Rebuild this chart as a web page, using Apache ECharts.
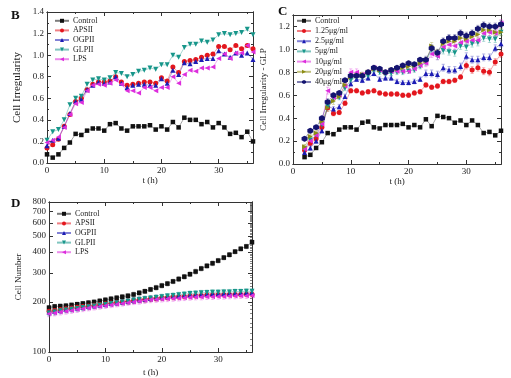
<!DOCTYPE html>
<html>
<head>
<meta charset="utf-8">
<script src="https://cdn.jsdelivr.net/npm/echarts@6/dist/echarts.min.js"></script>
<style>
html,body{margin:0;padding:0;background:#fff;}
#c{width:511px;height:378px;}
</style>
</head>
<body>
<div id="c"></div>
<script>
// ---------- DATA ----------
const tB = [0,1,2,3,4,5,6,7,8,9,10,11,12,13,14,15,16,17,18,19,20,21,22,23,24,25,26,27,28,29,30,31,32,33,34,35,36];
const bControl = [0.08,0.05,0.08,0.14,0.19,0.27,0.26,0.30,0.32,0.32,0.30,0.36,0.37,0.32,0.30,0.34,0.34,0.34,0.35,0.31,0.34,0.31,0.38,0.33,0.42,0.40,0.40,0.36,0.38,0.33,0.37,0.33,0.27,0.28,0.24,0.29,0.20];
const bAPSII = [0.14,0.17,0.22,0.34,0.45,0.57,0.60,0.68,0.73,0.75,0.75,0.76,0.80,0.75,0.72,0.73,0.74,0.75,0.75,0.74,0.79,0.76,0.89,0.84,0.94,0.95,0.96,0.98,1.00,1.01,1.08,1.08,1.05,1.09,1.06,1.09,1.06];
const bOGPII = [0.16,0.21,0.23,0.34,0.46,0.57,0.59,0.68,0.72,0.75,0.74,0.75,0.80,0.74,0.70,0.72,0.73,0.73,0.72,0.72,0.78,0.74,0.86,0.82,0.93,0.92,0.94,0.96,0.97,0.97,1.04,1.01,0.98,1.02,1.00,1.02,0.96];
const bGLPII = [0.21,0.29,0.31,0.40,0.54,0.60,0.62,0.73,0.77,0.78,0.77,0.79,0.84,0.83,0.80,0.82,0.85,0.86,0.88,0.87,0.91,0.91,1.00,0.98,1.07,1.10,1.10,1.13,1.12,1.14,1.19,1.20,1.19,1.20,1.21,1.24,1.19];
const bLPS = [0.19,0.21,0.24,0.33,0.45,0.55,0.56,0.67,0.72,0.73,0.72,0.74,0.77,0.73,0.67,0.67,0.65,0.70,0.70,0.67,0.70,0.70,0.80,0.74,0.82,0.86,0.85,0.88,0.88,0.89,0.97,1.01,0.97,1.02,1.02,1.09,1.03];

const tC = [2,3,4,5,6,7,8,9,10,11,12,13,14,15,16,17,18,19,20,21,22,23,24,25,26,27,28,29,30,31,32,33,34,35,36];
const cControl = [0.06,0.08,0.14,0.19,0.27,0.26,0.30,0.32,0.32,0.30,0.36,0.37,0.32,0.31,0.34,0.34,0.34,0.35,0.32,0.34,0.32,0.39,0.33,0.42,0.41,0.40,0.36,0.38,0.34,0.38,0.34,0.27,0.28,0.25,0.29];
const c125 = [0.12,0.18,0.22,0.32,0.49,0.44,0.45,0.53,0.64,0.64,0.62,0.63,0.64,0.62,0.61,0.61,0.61,0.60,0.60,0.62,0.63,0.69,0.67,0.68,0.72,0.72,0.73,0.76,0.86,0.82,0.84,0.81,0.80,0.89,0.96];
const c25 = [0.10,0.14,0.20,0.29,0.51,0.48,0.50,0.59,0.70,0.74,0.73,0.75,0.79,0.74,0.75,0.75,0.72,0.71,0.71,0.72,0.74,0.79,0.79,0.78,0.84,0.82,0.82,0.85,0.94,0.91,0.91,0.93,0.93,1.01,1.05];
const c5 = [0.13,0.21,0.25,0.34,0.50,0.57,0.58,0.66,0.73,0.76,0.76,0.77,0.82,0.80,0.79,0.79,0.80,0.80,0.81,0.82,0.85,0.89,1.00,0.94,0.99,0.98,0.97,1.03,1.02,1.05,1.06,1.10,1.09,1.09,1.15];
const c10 = [0.13,0.20,0.25,0.35,0.64,0.58,0.60,0.68,0.80,0.80,0.78,0.80,0.84,0.82,0.80,0.81,0.81,0.81,0.81,0.83,0.86,0.88,0.96,0.94,1.02,1.04,1.03,1.06,1.07,1.08,1.08,1.14,1.15,1.14,1.23];
const c20 = [0.15,0.24,0.27,0.37,0.49,0.55,0.59,0.69,0.76,0.77,0.78,0.80,0.83,0.82,0.80,0.82,0.83,0.84,0.85,0.86,0.88,0.90,1.03,0.97,1.05,1.07,1.07,1.10,1.09,1.11,1.13,1.17,1.17,1.15,1.15];
const c40 = [0.22,0.29,0.32,0.40,0.54,0.60,0.62,0.73,0.77,0.77,0.77,0.80,0.84,0.83,0.80,0.82,0.84,0.86,0.88,0.87,0.91,0.91,1.01,0.97,1.07,1.10,1.10,1.14,1.12,1.14,1.18,1.21,1.20,1.20,1.22];
// error bar half-heights (panel C)
const c125Err = [0.02,0.02,0.02,0.02,0.03,0.02,0.02,0.02,0.02,0.02,0.02,0.02,0.02,0.02,0.02,0.02,0.02,0.02,0.02,0.02,0.02,0.02,0.02,0.02,0.02,0.02,0.02,0.02,0.03,0.03,0.03,0.03,0.03,0.03,0.03];
const c25Err = [0.02,0.02,0.02,0.02,0.03,0.02,0.02,0.02,0.02,0.02,0.02,0.02,0.02,0.02,0.02,0.02,0.02,0.02,0.02,0.02,0.02,0.03,0.03,0.03,0.03,0.03,0.03,0.03,0.03,0.03,0.03,0.03,0.03,0.03,0.03];
const c5Err = [0.02,0.02,0.02,0.02,0.03,0.03,0.02,0.02,0.02,0.02,0.02,0.02,0.02,0.02,0.02,0.02,0.02,0.02,0.02,0.02,0.02,0.03,0.03,0.03,0.03,0.03,0.03,0.03,0.03,0.03,0.03,0.03,0.03,0.03,0.03];
const c10Err = [0.02,0.02,0.02,0.02,0.03,0.03,0.03,0.02,0.03,0.03,0.02,0.02,0.02,0.02,0.02,0.02,0.02,0.02,0.02,0.02,0.02,0.03,0.03,0.03,0.03,0.03,0.03,0.03,0.03,0.03,0.03,0.03,0.03,0.03,0.03];
const c20Err = [0.02,0.02,0.02,0.02,0.03,0.03,0.02,0.02,0.02,0.02,0.02,0.02,0.02,0.02,0.02,0.02,0.02,0.02,0.02,0.02,0.02,0.03,0.03,0.03,0.03,0.03,0.03,0.03,0.03,0.03,0.03,0.03,0.03,0.03,0.03];
const c40Err = [0.02,0.02,0.02,0.02,0.03,0.02,0.02,0.02,0.02,0.02,0.02,0.02,0.02,0.02,0.02,0.02,0.02,0.02,0.02,0.02,0.02,0.03,0.03,0.03,0.03,0.03,0.03,0.03,0.03,0.03,0.03,0.03,0.03,0.03,0.03];

const tD = tB;
const dControl = [185,188,189,190,192,194,196,198,200,203,206,209,212,215,218,222,227,232,238,244,251,258,266,275,284,294,305,318,330,342,355,370,385,402,418,432,458];
const dAPSII = [176,178,180,182,184,186,188,189,191,193,195,197,199,200,202,204,206,207,209,210,212,213,214,215,216,217,218,219,220,220,221,221,222,222,222,223,223];
const dOGPII = [174,176,178,180,182,184,186,188,190,192,194,196,198,200,202,204,206,208,210,212,213,215,216,218,219,220,221,222,223,224,224,225,225,226,226,227,227];
const dGLPII = [172,174,177,179,181,183,185,187,189,191,193,196,198,200,202,205,207,209,211,213,215,217,219,221,223,225,226,227,228,229,229,230,230,231,231,232,232];
const dLPS = [170,172,174,176,178,180,182,184,186,188,190,192,194,196,198,200,202,204,206,207,208,209,210,211,212,213,214,214,215,215,216,216,217,217,218,218,219];
// error bar half-heights (panel D)
const dControlErr = [5,5,5,5,5,5,5,6,6,6,6,6,6,6,6,7,7,7,7,8,8,8,8,9,9,9,10,10,10,11,11,11,12,12,12,13,13];
const dAPSIIErr = [7,7,7,7,7,7,7,7,7,7,7,7,7,7,8,8,8,8,8,8,8,8,8,8,8,8,8,8,8,8,8,8,8,8,8,8,8];
const dOGPIIErr = [7,7,7,7,7,7,7,7,7,7,7,7,7,7,7,8,8,8,8,8,8,8,8,8,8,8,8,8,8,8,8,8,8,8,8,8,8];
const dGLPIIErr = [7,7,7,7,7,7,7,7,7,7,7,7,8,8,8,8,8,8,8,8,8,8,8,8,8,8,8,8,8,8,8,8,8,8,8,8,8];
const dLPSErr = [7,7,7,7,7,7,7,7,7,7,7,7,7,7,7,7,8,8,8,8,8,8,8,8,8,8,8,8,8,8,8,8,8,8,8,8,8];

const xTicks = [0,10,20,30];
const xMinor = [5,15,25,35];
const yTicksB = [0,0.2,0.4,0.6,0.8,1.0,1.2,1.4];
const yMinorB = [0.1,0.3,0.5,0.7,0.9,1.1,1.3];
const yTicksC = [0,0.2,0.4,0.6,0.8,1.0,1.2];
const yMinorC = [0.1,0.3,0.5,0.7,0.9,1.1,1.3];
const yTicksD = [100,200,300,400,500,600,700,800];
const yMinorD = [];
for (let v = 110; v < 800; v += 10) { if (v % 100 !== 0) yMinorD.push(v); }

// ---------- STYLE ----------
const FONT = '"Liberation Serif","DejaVu Serif",serif';
const COL = {
  black:'#111111', red:'#e3161d', blue:'#1c1cb4', teal:'#17968a', mag:'#dd2ddd', olive:'#8c8c14', navy:'#141470'
};
const AX = '#333';

const xAxes = [], yAxes = [];
function mkAxis(type, g, pos, min, max, vals, len, labels, fmt, tw){
  return {
    type: type, gridIndex: g, position: pos, min: min, max: max,
    splitLine:{show:false},
    axisLine:{show:true, onZero:false, lineStyle:{color:AX, width:1}},
    axisTick:{show:true, inside:true, length:len, customValues: vals, lineStyle:{color:AX, width:tw||1}},
    axisLabel:{show:labels, customValues: vals, color:'#222', fontFamily:FONT, fontSize:9, margin:3, formatter: fmt},
  };
}
function addAxes(g, xmin, xmax, yType, ymin, ymax, yMaj, yMinL, yMinR, yFmt, xGap, minorW){
  xAxes.push(Object.assign(mkAxis('value',g,'bottom',xmin,xmax,xTicks,4,true,v=>String(v)),{
    name:'t (h)', nameLocation:'middle', nameGap:xGap, nameTextStyle:{fontFamily:FONT,fontSize:9,color:'#222'}}));
  xAxes.push(mkAxis('value',g,'bottom',xmin,xmax,xMinor,2,false));
  xAxes.push(mkAxis('value',g,'top',xmin,xmax,xTicks,4,false));
  xAxes.push(mkAxis('value',g,'top',xmin,xmax,xMinor,2,false));
  yAxes.push(mkAxis(yType,g,'left',ymin,ymax,yMaj,4,true,yFmt));
  yAxes.push(mkAxis(yType,g,'right',ymin,ymax,yMaj,4,false));
  yAxes.push(mkAxis(yType,g,'left',ymin,ymax,yMinL.length?yMinL:[ymin],yMinL.length?2:0,false));
  yAxes.push(mkAxis(yType,g,'right',ymin,ymax,yMinR,2,false,undefined,minorW));
}
addAxes(0, 0, 36, 'value', 0, 1.4, yTicksB, yMinorB, yMinorB, v=>v.toFixed(1), 13, 1);
addAxes(1, 0, 36, 'value', 0, 1.3, yTicksC, yMinorC, yMinorC, v=>v.toFixed(1), 13, 1);
addAxes(2, 0, 36, 'log', 100, 800, yTicksD, [], yMinorD, v=>String(Math.round(v)), 16, 0.6);
// y axis names
const yNames = [[0,'Cell Irregularity',11,24],[4,'Cell Irregularity - GLP',9,25],[8,'Cell Number',9,26]];
yNames.forEach(([i,n,fs,gap])=>{ Object.assign(yAxes[i],{name:n, nameLocation:'middle', nameGap:gap, nameRotate:90,
  nameTextStyle:{fontFamily:FONT,fontSize:fs,color:'#222'}}); });

const series = [];
function addSeries(name, xs, ys, color, symbol, xi, yi, size){
  series.push({
    type:'line', name:name, xAxisIndex:xi, yAxisIndex:yi, z:3,
    data: xs.map((x,i)=>[x, ys[i]]),
    symbol: symbol, symbolSize: size||5, showAllSymbol:true,
    itemStyle:{color:color, borderWidth:0},
    lineStyle:{color:color, width:0.7, opacity:0.55},
    emphasis:{disabled:true}, animation:false
  });
}
function addErr(xs, ys, es, color, xi, yi){
  series.push({
    type:'custom', xAxisIndex:xi, yAxisIndex:yi, silent:true, z:1, animation:false,
    data: xs.map((x,i)=>[x, ys[i]-es[i], ys[i]+es[i]]),
    encode:{x:0, y:[1,2]},
    renderItem:(params, api)=>{
      const lo = api.coord([api.value(0), api.value(1)]);
      const hi = api.coord([api.value(0), api.value(2)]);
      const st = {stroke:color, lineWidth:0.7, opacity:0.45};
      return {type:'group', children:[
        {type:'line', shape:{x1:lo[0],y1:lo[1],x2:hi[0],y2:hi[1]}, style:st},
        {type:'line', shape:{x1:lo[0]-1.6,y1:lo[1],x2:lo[0]+1.6,y2:lo[1]}, style:st},
        {type:'line', shape:{x1:hi[0]-1.6,y1:hi[1],x2:hi[0]+1.6,y2:hi[1]}, style:st}]};
    }
  });
}
const TRI_L = 'path://M0,5 L8,0 L8,10 Z';
const TRI_R = 'path://M8,5 L0,0 L0,10 Z';
const TRI_D = 'path://M0,0 L10,0 L5,8 Z';
const HEX = 'path://M5,0 L9.3,2.5 L9.3,7.5 L5,10 L0.7,7.5 L0.7,2.5 Z';

addSeries('Control', tB, bControl, COL.black, 'rect', 0, 0, 4.5);
addSeries('APSII', tB, bAPSII, COL.red, 'circle', 0, 0);
addSeries('OGPII', tB, bOGPII, COL.blue, 'triangle', 0, 0);
addSeries('GLPII', tB, bGLPII, COL.teal, TRI_D, 0, 0);
addSeries('LPS', tB, bLPS, COL.mag, TRI_L, 0, 0);

addSeries('Control ', tC, cControl, COL.black, 'rect', 4, 4, 4.5);
addSeries('1.25μg/ml', tC, c125, COL.red, 'circle', 4, 4);
addSeries('2.5μg/ml', tC, c25, COL.blue, 'triangle', 4, 4);
addSeries('5μg/ml', tC, c5, COL.teal, TRI_D, 4, 4);
addSeries('10μg/ml', tC, c10, COL.mag, TRI_L, 4, 4);
addSeries('20μg/ml', tC, c20, COL.olive, TRI_R, 4, 4);
addSeries('40μg/ml', tC, c40, COL.navy, HEX, 4, 4, 6);
addErr(tC, c125, c125Err, COL.red, 4, 4);
addErr(tC, c25, c25Err, COL.blue, 4, 4);
addErr(tC, c5, c5Err, COL.teal, 4, 4);
addErr(tC, c10, c10Err, COL.mag, 4, 4);
addErr(tC, c20, c20Err, COL.olive, 4, 4);
addErr(tC, c40, c40Err, COL.navy, 4, 4);

addSeries('Control  ', tD, dControl, COL.black, 'rect', 8, 8, 4.5);
addSeries('APSII ', tD, dAPSII, COL.red, 'circle', 8, 8);
addSeries('OGPII ', tD, dOGPII, COL.blue, 'triangle', 8, 8);
addSeries('GLPII ', tD, dGLPII, COL.teal, TRI_D, 8, 8);
addSeries('LPS ', tD, dLPS, COL.mag, TRI_L, 8, 8);
addErr(tD, dControl, dControlErr, COL.black, 8, 8);
addErr(tD, dAPSII, dAPSIIErr, COL.red, 8, 8);
addErr(tD, dOGPII, dOGPIIErr, COL.blue, 8, 8);
addErr(tD, dGLPII, dGLPIIErr, COL.teal, 8, 8);
addErr(tD, dLPS, dLPSErr, COL.mag, 8, 8);

const legBase = {orient:'vertical', itemWidth:14, itemHeight:5, itemGap:0,
  textStyle:{fontFamily:FONT, fontSize:8, color:'#222', lineHeight:9.6, padding:[0,0,0,-1]},
  selectedMode:false, padding:0, backgroundColor:'transparent'};
const legends = [
  Object.assign({}, legBase, {left:54, top:16, data:['Control','APSII','OGPII','GLPII','LPS']}),
  Object.assign({}, legBase, {left:296, top:16, itemGap:0.6, data:['Control ','1.25μg/ml','2.5μg/ml','5μg/ml','10μg/ml','20μg/ml','40μg/ml']}),
  Object.assign({}, legBase, {left:56, top:209, data:['Control  ','APSII ','OGPII ','GLPII ','LPS ']}),
];

const option = {
  animation:false,
  backgroundColor:'#fff',
  textStyle:{fontFamily:FONT},
  grid:[
    {left:47, top:12, width:206, height:151, show:false},
    {left:293, top:15, width:208, height:149, show:false},
    {left:49, top:202, width:203, height:151, show:false},
  ],
  title:[
    {text:'B', left:6, top:4, textStyle:{fontFamily:FONT, fontSize:13, fontWeight:'bold', color:'#111'}},
    {text:'C', left:273, top:0, textStyle:{fontFamily:FONT, fontSize:13, fontWeight:'bold', color:'#111'}},
    {text:'D', left:6, top:192, textStyle:{fontFamily:FONT, fontSize:13, fontWeight:'bold', color:'#111'}},
  ],
  legend: legends,
  xAxis: xAxes,
  yAxis: yAxes,
  series: series
};
const chart = echarts.init(document.getElementById('c'), null, {renderer:'canvas'});
chart.setOption(option);
</script>
</body>
</html>
